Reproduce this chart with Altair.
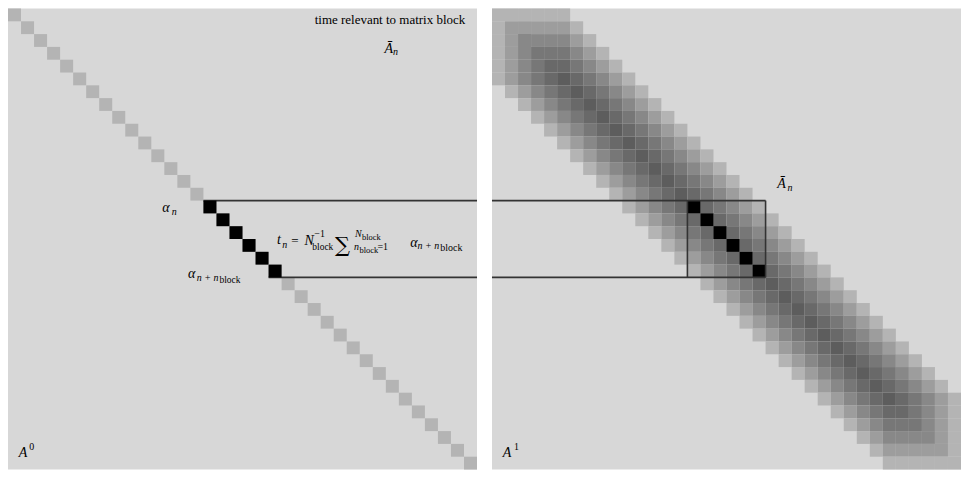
import altair as alt
import pandas as pd

# ---------------- data ----------------
N_CELLS = 36                      # matrix size (cells per side)
BLOCK = 6                         # block length
diag_idx = list(range(N_CELLS))   # diagonal cells of A^0
block_starts = list(range(N_CELLS - BLOCK + 1))  # overlapping blocks of A^1
highlight_idx = list(range(15, 21))               # the highlighted block n .. n+N_block
box_lo, box_hi = 15, 21
# grey level for a cell covered by 1..6 overlapping blocks
coverage_levels = [1, 2, 3, 4, 5, 6]
coverage_greys = ["#b4b4b4", "#9d9d9d", "#888888", "#777777", "#696969", "#5d5d5d"]

BG = "#d7d7d7"
LINE = "#333333"

PW, PH = 470, 462                 # panel width / height in px
REF_LEFT_X0, REF_RIGHT_X0, REF_Y0, REF_SIZE = 7, 497, 2, 477

xs = alt.Scale(domain=[0, N_CELLS], nice=False, zero=False)
ys = alt.Scale(domain=[0, N_CELLS], nice=False, zero=False, reverse=True)
cs = alt.Scale(domain=coverage_levels, range=coverage_greys)

# A^0: identity-like diagonal (coverage 1)
diag_df = pd.DataFrame({"x": diag_idx, "x2": [i + 1 for i in diag_idx],
                        "y": diag_idx, "y2": [i + 1 for i in diag_idx],
                        "c": [1] * len(diag_idx)})

# A^1: count how many blocks cover each cell
rows = []
for i in range(N_CELLS):
    for j in range(N_CELLS):
        c = sum(1 for n in block_starts if n <= i < n + BLOCK and n <= j < n + BLOCK)
        if c > 0:
            rows.append({"x": j, "x2": j + 1, "y": i, "y2": i + 1, "c": c})
band_df = pd.DataFrame(rows)

black_df = pd.DataFrame({"x": highlight_idx, "x2": [i + 1 for i in highlight_idx],
                         "y": highlight_idx, "y2": [i + 1 for i in highlight_idx]})
left_lines = pd.DataFrame({"x": [box_lo, box_hi - 1], "x2": [N_CELLS, N_CELLS], "y": [box_lo, box_hi]})
right_hlines = pd.DataFrame({"x": [0, 0], "x2": [box_hi, box_hi], "y": [box_lo, box_hi]})
right_vlines = pd.DataFrame({"x": [box_lo, box_hi], "y": [box_lo, box_lo], "y2": [box_hi, box_hi]})


def grey_cells(df):
    return alt.Chart(df).mark_rect(strokeWidth=0).encode(
        x=alt.X("x:Q", scale=xs, axis=None), x2="x2:Q",
        y=alt.Y("y:Q", scale=ys, axis=None), y2="y2:Q",
        color=alt.Color("c:O", scale=cs, legend=None))


def black_cells(df):
    return alt.Chart(df).mark_rect(color="#000000", strokeWidth=0).encode(
        x=alt.X("x:Q", scale=xs, axis=None), x2="x2:Q",
        y=alt.Y("y:Q", scale=ys, axis=None), y2="y2:Q")


def hrules(df):
    return alt.Chart(df).mark_rule(color=LINE, strokeWidth=1.6).encode(
        x=alt.X("x:Q", scale=xs, axis=None), x2="x2:Q",
        y=alt.Y("y:Q", scale=ys, axis=None))


def vrules(df):
    return alt.Chart(df).mark_rule(color=LINE, strokeWidth=1.6).encode(
        x=alt.X("x:Q", scale=xs, axis=None),
        y=alt.Y("y:Q", scale=ys, axis=None), y2="y2:Q")


def label(text, px, py, size, x0, italic=True, font="Liberation Serif", align="left"):
    rx = (px - x0) * PW / REF_SIZE
    ry = (py - REF_Y0) * PH / REF_SIZE
    return alt.Chart(pd.DataFrame({"t": [text]})).mark_text(
        align=align, baseline="alphabetic", font=font, fontSize=size,
        fontStyle="italic" if italic else "normal", color="#000000").encode(
        text="t:N", x=alt.value(rx), y=alt.value(ry))


L = REF_LEFT_X0
left_texts = [
    label("time relevant to matrix block", 472, 18.5, 13, L, italic=False, align="right"),
    label("Ā", 390, 48, 14, L), label("n", 398.5, 50.5, 10, L),
    label("α", 164, 213, 14, L), label("n", 173.5, 216, 10, L),
    # formula  t_n = N_block^{-1} sum_{n_block=1}^{N_block} alpha_{n+n_block}
    label("t", 280.7, 246, 14, L), label("n", 285.8, 249.3, 10, L),
    label("=", 295, 246.5, 13, L, italic=False),
    label("N", 308.5, 246.7, 14, L),
    label("−1", 318.5, 238, 10, L, italic=False),
    label("block", 316.5, 251.5, 9.5, L, italic=False),
    label("∑", 339.5, 254, 21, L, italic=False, font="DejaVu Serif"),
    label("N", 360, 238, 10, L), label("block", 367, 241.5, 8.5, L, italic=False),
    label("n", 359, 251.7, 10, L), label("block", 364.5, 255, 8.5, L, italic=False),
    label("=1", 382.7, 252, 10, L, italic=False),
    label("α", 416, 248.3, 14, L), label("n + n", 423.5, 250.7, 10, L),
    label("block", 446.7, 253.3, 10, L, italic=False),
    # alpha_{n+n_block}
    label("α", 190, 281, 14, L), label("n + n", 199, 284, 10, L),
    label("block", 222, 286.5, 9.5, L, italic=False),
    label("A", 18, 466, 14, L), label("0", 28.5, 459, 10, L, italic=False),
]

R = REF_RIGHT_X0
right_texts = [
    label("Ā", 787, 188, 14, R), label("n", 797.5, 190.5, 10, R),
    label("A", 508, 466, 14, R), label("1", 519.5, 459, 10, R, italic=False),
]

left = alt.layer(
    grey_cells(diag_df),
    hrules(left_lines),
    black_cells(black_df),
    *left_texts,
).properties(width=PW, height=PH)

right = alt.layer(
    grey_cells(band_df),
    black_cells(black_df),
    hrules(right_hlines),
    vrules(right_vlines),
    *right_texts,
).properties(width=PW, height=PH)

chart = alt.hconcat(left, right, spacing=13).properties(
    padding=0
).configure_view(fill=BG, stroke=None, strokeWidth=0)

chart.save("out.html", embed_options={"renderer": "svg", "actions": False})
